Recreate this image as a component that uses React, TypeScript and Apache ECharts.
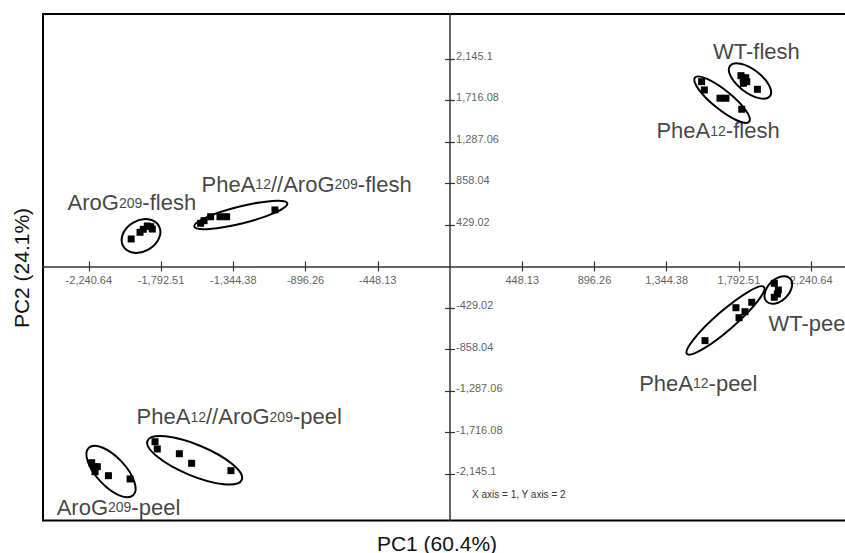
import React, { useEffect, useRef } from "react";
import * as echarts from "echarts";

// Tick values (labels are these numbers formatted)
const xTicks = [-2240.64, -1792.51, -1344.38, -896.26, -448.13, 448.13, 896.26, 1344.38, 1792.51, 2240.64];
const yTicks = [-2145.1, -1716.08, -1287.06, -858.04, -429.02, 429.02, 858.04, 1287.06, 1716.08, 2145.1];

// Score points [PC1, PC2] per group
const wtFlesh = [[1805, 1971], [1820, 1944], [1835, 1950], [1820, 1892], [1841, 1909], [1907, 1830]];
const pheAFlesh = [[1561, 1909], [1578, 1823], [1675, 1738], [1712, 1738], [1810, 1624]];
const aroGFlesh = [[-1978, 284], [-1923, 353], [-1903, 384], [-1878, 418], [-1857, 411], [-1847, 387]];
const pheAAroGFlesh = [[-1547, 446], [-1526, 473], [-1485, 514], [-1427, 514], [-1386, 514], [-1086, 584]];
const wtPeel = [[2012, -174], [2037, -243], [2031, -284], [2012, -318]];
const pheAPeel = [[1582, -766], [1774, -426], [1793, -529], [1830, -467], [1872, -370]];
const aroGPeel = [[-2223, -2027], [-2209, -2068], [-2188, -2068], [-2202, -2120], [-2119, -2161], [-1985, -2195]];
const pheAAroGPeel = [[-1830, -1810], [-1816, -1885], [-1679, -1934], [-1603, -2033], [-1359, -2109]];

// Group ellipses: centre [PC1, PC2], semi-axes (px), tilt (deg)
const ellipseCenters = [[-1917, 315], [-1298, 532], [1861, 1916], [1688, 1723], [1709, -558], [2037, -243], [-2103, -2118], [-1584, -2002]];
const ellipseRadii = [[20.5, 15.5], [48, 8.5], [25, 11.5], [35, 9.5], [51, 9.5], [16.5, 10.5], [32.5, 14.5], [51, 15.5]];
const ellipseTilts = [30, 14, -37, -39, 41, 45, -47, -22.5];

// Group labels (left edge, vertical centre) in PC units
const groupNames = [
  "WT-flesh",
  "PheA{s|12}-flesh",
  "AroG{s|209}-flesh",
  "PheA{s|12}//AroG{s|209}-flesh",
  "PheA{s|12}//AroG{s|209}-peel",
  "AroG{s|209}-peel",
  "PheA{s|12}-peel",
  "WT-peel",
];
const groupLabelPos = [[1632, 2219], [1281, 1400], [-2372, 659], [-1541, 849], [-1944, -1552], [-2440, -2487], [1174, -1207], [1976, -587]];

const FONT = "'Liberation Sans', Arial, Helvetica, sans-serif";

export default function App() {
  const ref = useRef<HTMLDivElement>(null);
  useEffect(() => {
    if (!ref.current) return;
    const chart = echarts.init(ref.current, undefined, { renderer: "svg" });
    const fmt = (v: number) => Number(v).toLocaleString("en-US", { maximumFractionDigits: 2 });
    const pointGroups = [wtFlesh, pheAFlesh, aroGFlesh, pheAAroGFlesh, wtPeel, pheAPeel, aroGPeel, pheAAroGPeel];
    const ellipseData = ellipseCenters.map((c, i) => [c[0], c[1], ellipseRadii[i][0], ellipseRadii[i][1], ellipseTilts[i]]);

    const tickStyle = { color: "#333", width: 1.2 };
    const baseX = { type: "value", min: -2525, max: 2525, splitLine: { show: false }, axisLabel: { show: false } };
    const baseY = { type: "value", min: -2624, max: 2608, splitLine: { show: false }, axisLabel: { show: false } };
    const tickLabelStyle = { fontSize: 11, fontFamily: FONT, color: "#333" };

    const option: any = {
      animation: false,
      backgroundColor: "#fff",
      grid: {
        left: 43,
        right: -12,
        top: 14,
        bottom: 32.5,
        show: true,
        borderColor: "#000",
        borderWidth: 2,
        containLabel: false,
        outerBoundsMode: "none",
      },
      xAxis: [
        {
          ...baseX,
          position: "bottom",
          axisLine: { show: true, onZero: true, onZeroAxisIndex: 0, lineStyle: { color: "#333", width: 1.5 } },
          axisTick: { show: true, length: 5, customValues: xTicks, lineStyle: tickStyle },
        },
        {
          ...baseX,
          position: "top",
          axisLine: { show: false, onZero: true, onZeroAxisIndex: 0 },
          axisTick: { show: true, length: 5, customValues: xTicks, lineStyle: tickStyle },
        },
      ],
      yAxis: [
        {
          ...baseY,
          position: "left",
          axisLine: { show: true, onZero: true, onZeroAxisIndex: 0, lineStyle: { color: "#333", width: 1.5 } },
          axisTick: { show: true, length: 5, customValues: yTicks, lineStyle: tickStyle },
        },
        {
          ...baseY,
          position: "right",
          axisLine: { show: false, onZero: true, onZeroAxisIndex: 0 },
          axisTick: { show: true, length: 5, customValues: yTicks, lineStyle: tickStyle },
        },
      ],
      series: [
        {
          type: "custom",
          name: "ellipses",
          xAxisIndex: 0,
          yAxisIndex: 0,
          silent: true,
          encode: { x: 0, y: 1 },
          data: ellipseData,
          renderItem: (params: any, api: any) => {
            const p = api.coord([api.value(0), api.value(1)]);
            return {
              type: "ellipse",
              x: p[0],
              y: p[1],
              rotation: (api.value(4) * Math.PI) / 180,
              shape: { cx: 0, cy: 0, rx: api.value(2), ry: api.value(3) },
              style: { fill: "none", stroke: "#000", lineWidth: 2 },
            };
          },
          z: 3,
        },
        ...pointGroups.map((g, i) => ({
          type: "scatter",
          name: "g" + i,
          xAxisIndex: 0,
          yAxisIndex: 0,
          silent: true,
          symbol: "rect",
          symbolSize: 7,
          itemStyle: { color: "#000", opacity: 1 },
          data: g,
          z: 4,
        })),
        {
          type: "scatter",
          name: "xTickLabels",
          xAxisIndex: 0,
          yAxisIndex: 0,
          silent: true,
          symbolSize: 0.1,
          itemStyle: { color: "transparent" },
          data: xTicks.map((v) => ({ value: [v, 0], name: fmt(v) })),
          label: { show: true, position: "bottom", distance: 8, formatter: (p: any) => p.name, ...tickLabelStyle },
          z: 2,
        },
        {
          type: "scatter",
          name: "yTickLabels",
          xAxisIndex: 0,
          yAxisIndex: 0,
          silent: true,
          symbolSize: 0.1,
          itemStyle: { color: "transparent" },
          data: yTicks.map((v) => ({ value: [0, v], name: fmt(v) })),
          label: { show: true, position: "right", distance: 6, offset: [0, -3], formatter: (p: any) => p.name, ...tickLabelStyle },
          z: 2,
        },
        {
          type: "scatter",
          name: "labels",
          xAxisIndex: 0,
          yAxisIndex: 0,
          silent: true,
          symbolSize: 0.1,
          itemStyle: { color: "transparent" },
          data: groupLabelPos.map((p, i) => ({ value: p, name: groupNames[i] })),
          label: {
            show: true,
            position: [0, 0],
            align: "left",
            verticalAlign: "middle",
            formatter: (p: any) => p.name,
            fontSize: 22,
            fontFamily: FONT,
            color: "#111",
            rich: {
              s: { fontSize: 14, fontFamily: FONT, color: "#111" },
            },
          },
          z: 5,
        },
      ],
      graphic: [
        {
          type: "text",
          x: 437,
          y: 543,
          style: {
            text: "PC1 (60.4%)",
            fontSize: 21,
            fontFamily: FONT,
            fill: "#111",
            textAlign: "center",
            textVerticalAlign: "middle",
          },
        },
        {
          type: "text",
          x: 21,
          y: 268,
          rotation: Math.PI / 2,
          style: {
            text: "PC2 (24.1%)",
            fontSize: 21,
            fontFamily: FONT,
            fill: "#111",
            textAlign: "center",
            textVerticalAlign: "middle",
          },
        },
        {
          type: "text",
          x: 472,
          y: 494,
          style: {
            text: "X axis = 1, Y axis = 2",
            fontSize: 10,
            fontFamily: FONT,
            fill: "#333",
            textAlign: "left",
            textVerticalAlign: "middle",
          },
        },
      ],
    };
    chart.setOption(option);
    return () => chart.dispose();
  }, []);
  return (
    <div
      ref={ref}
      style={{ position: "fixed", left: 0, top: 0, width: 845, height: 553, background: "#fff" }}
    />
  );
}
